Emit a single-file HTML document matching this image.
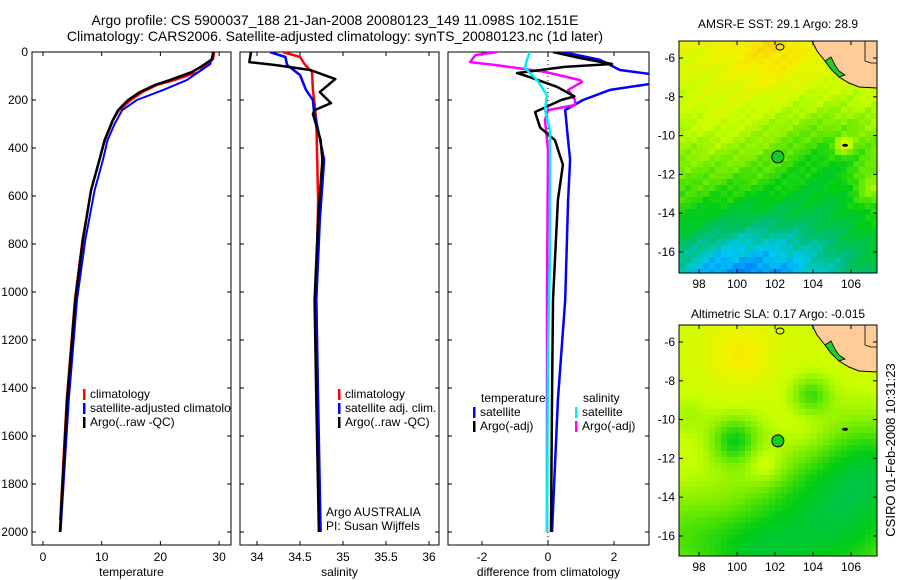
<!DOCTYPE html>
<html><head><meta charset="utf-8"><style>
body{margin:0;background:#fff}
svg{display:block;font-family:"Liberation Sans",sans-serif}
</style></head><body>
<svg id="fig" width="900" height="580" viewBox="0 0 900 580" xmlns="http://www.w3.org/2000/svg">
<defs>
<clipPath id="cT"><rect x="32" y="52" width="199" height="493"/></clipPath>
<clipPath id="cS"><rect x="240" y="52" width="199" height="493"/></clipPath>
<clipPath id="cD"><rect x="448" y="52" width="201" height="493"/></clipPath>
<clipPath id="cM1"><rect x="679" y="41" width="198" height="232"/></clipPath>
<clipPath id="cM2"><rect x="679" y="325" width="198" height="231"/></clipPath>
</defs>
<text x="335" y="25" font-size="14" text-anchor="middle">Argo profile: CS 5900037_188 21-Jan-2008 20080123_149 11.098S 102.151E</text>
<text x="335" y="41" font-size="14" text-anchor="middle">Climatology: CARS2006. Satellite-adjusted climatology: synTS_20080123.nc (1d later)</text>
<g id="g"></g>
<text x="778" y="28" font-size="12" text-anchor="middle">AMSR-E SST: 29.1 Argo: 28.9</text>
<text x="778" y="318" font-size="12" text-anchor="middle">Altimetric SLA: 0.17 Argo: -0.015</text>
<text transform="translate(895,450) rotate(-90)" font-size="13" text-anchor="middle">CSIRO 01-Feb-2008 10:31:23</text>
</svg>
<script>
// ---- data ----
const depthTicks=[0,200,400,600,800,1000,1200,1400,1600,1800,2000];
const tempTicks=[0,10,20,30];
const salTicks=[34,34.5,35,35.5,36];
const diffTicks=[-2,0,2];
const tClimD=[0,30,60,83,117,137,167,200,242,283,367,450,575,783,1033,1450,1950];
const tClimV=[29.2,29.0,27.5,26.5,22.5,19.5,17,15,13,12,10.6,9.6,8.2,6.7,5.4,4.0,2.9];
const tSatD=[0,50,117,158,200,242,300,367,450,575,783,1033,1450,2000];
const tSatV=[29.0,28.5,24.5,20.5,16.0,13.5,12.2,11.0,10.2,8.8,7.2,5.8,4.4,3.0];
const tArgoD=[0,30,60,83,117,137,167,200,242,283,367,450,575,783,1033,1450,2000];
const tArgoV=[29.0,28.8,27.0,25.4,21.6,19.1,16.5,14.5,12.8,11.9,10.5,9.6,8.2,6.8,5.5,4.1,2.9];
const sClimD=[0,21,54,83,158,283,617,1033,2000];
const sClimV=[34.3,34.5,34.56,34.64,34.65,34.69,34.71,34.69,34.73];
const sSatD=[0,21,54,96,158,200,242,325,450,700,1033,1450,2000];
const sSatV=[34.15,34.33,34.35,34.5,34.57,34.65,34.66,34.71,34.78,34.73,34.69,34.71,34.74];
const sArgoD=[0,42,54,75,113,167,213,242,258,367,450,700,1033,1450,2000];
const sArgoV=[33.93,33.91,34.21,34.62,34.91,34.73,34.86,34.67,34.65,34.74,34.76,34.71,34.67,34.69,34.72];
const dTSatD=[0,33,75,92,133,158,200,242,367,450,617,1033,1450,2000];
const dTSatV=[0.45,1.58,2.18,3.1,3.1,1.88,1.06,0.52,0.61,0.67,0.61,0.52,0.3,0.12];
const dTArgoD=[0,25,50,62,88,105,145,185,200,250,315,367,470,617,1033,1450,2000];
const dTArgoV=[0.15,0.97,1.94,0.5,-0.94,-0.55,0.27,0.8,0.4,-0.39,-0.24,0.21,0.45,0.3,0.15,0.12,0.09];
const dSSatD=[0,33,67,117,179,242,325,833,1250,2000];
const dSSatV=[-0.55,-0.64,-0.7,-0.33,-0.03,-0.09,0.06,0.06,0,-0.03];
const dSArgoD=[0,13,42,54,83,117,125,158,200,221,242,283,408,1000,2000];
const dSArgoV=[-1.55,-2.2,-2.36,-1.6,-0.09,0.97,1.03,0.61,0.82,0.82,0,-0.09,0,-0.03,-0.03];
const lonTicks=[98,100,102,104,106];
const latTicks=[-6,-8,-10,-12,-14,-16];

const NS='http://www.w3.org/2000/svg';
const G=document.getElementById('g');
function mk(tag,at,par){const e=document.createElementNS(NS,tag);for(const k in at)e.setAttribute(k,at[k]);(par||G).appendChild(e);return e;}
const yD=d=>52+d*0.24;
const xT=v=>43+v*5.87;
const xS=v=>257+(v-34)*86;
const xDf=v=>548+v*33;

function panel(name,x0,w,xf,ticks,label,showY){
  const r=mk('rect',{x:x0,y:52,width:w,height:493,fill:'none',stroke:'#000','stroke-width':1});
  
  
  ticks.forEach(t=>{const x=xf(t);
    mk('line',{x1:x,y1:545,x2:x,y2:541,stroke:'#000'});mk('line',{x1:x,y1:52,x2:x,y2:56,stroke:'#000'});
    const tx=mk('text',{x:x,y:561,'font-size':12,'text-anchor':'middle'});tx.textContent=String(t);
    
    });
  depthTicks.forEach(d=>{const y=yD(d);
    mk('line',{x1:x0,y1:y,x2:x0+4,y2:y,stroke:'#000'});mk('line',{x1:x0+w,y1:y,x2:x0+w-4,y2:y,stroke:'#000'});
    if(showY){const tx=mk('text',{x:x0-4,y:y+4,'font-size':12,'text-anchor':'end'});tx.textContent=String(d);
      
      }});
  const lb=mk('text',{x:x0+w/2,y:576,'font-size':12,'text-anchor':'middle'});lb.textContent=label;
  
  
}
function line(D,V,xf,col,sw,clip,name){
  const p=D.map((d,i)=>xf(V[i]).toFixed(1)+','+yD(d).toFixed(1)).join(' ');
  const e=mk('polyline',{points:p,fill:'none',stroke:col,'stroke-width':sw,'clip-path':'url(#'+clip+')','stroke-linejoin':'round'});
  
  
}
function legend(x,y,col,txt,name){
  mk('rect',{x:x,y:y-9,width:2.5,height:11,fill:col});
  const t=mk('text',{x:x+7,y:y,'font-size':12});t.textContent=txt;
  
  
}
panel('temperature',32,199,xT,tempTicks,'temperature',true);
panel('salinity',240,199,xS,salTicks,'salinity',false);
panel('difference',448,201,xDf,diffTicks,'difference from climatology',false);
mk('line',{x1:548,y1:52,x2:548,y2:545,stroke:'#000','stroke-dasharray':'1,3'});

line(tClimD,tClimV,xT,'#f00',2,'cT','temp-climatology-line');
line(tSatD,tSatV,xT,'#00f',2,'cT','temp-satellite-line');
line(tArgoD,tArgoV,xT,'#000',2.5,'cT','temp-argo-line');
line(sClimD,sClimV,xS,'#f00',2.5,'cS','sal-climatology-line');
line(sSatD,sSatV,xS,'#00f',2.5,'cS','sal-satellite-line');
line(sArgoD,sArgoV,xS,'#000',2.5,'cS','sal-argo-line');
line(dTSatD,dTSatV,xDf,'#00f',2.5,'cD','diff-temp-satellite-line');
line(dSArgoD,dSArgoV,xDf,'#f0f',2.5,'cD','diff-sal-argo-line');
line(dTArgoD,dTArgoV,xDf,'#000',2.5,'cD','diff-temp-argo-line');
line(dSSatD,dSSatV,xDf,'#0ee',2.5,'cD','diff-sal-satellite-line');

const gl=mk('g',{'clip-path':'url(#cT)'});
[['#f00','climatology',398],['#00f','satellite-adjusted climatology',412],['#000','Argo(..raw -QC)',426]].forEach(a=>{
  mk('rect',{x:83,y:a[2]-9,width:2.5,height:11,fill:a[0]},gl);
  const t=mk('text',{x:90,y:a[2],'font-size':12},gl);t.textContent=a[1];
  
  });
legend(338,398,'#f00','climatology','sal-legend-climatology');
legend(338,412,'#00f','satellite adj. clim.','sal-legend-satellite');
legend(338,426,'#000','Argo(..raw -QC)','sal-legend-argo');
let t1=mk('text',{x:326,y:516,'font-size':12});t1.textContent='Argo AUSTRALIA';


let t2=mk('text',{x:326,y:530,'font-size':12});t2.textContent='PI: Susan Wijffels';


let t3=mk('text',{x:481,y:402,'font-size':12});t3.textContent='temperature';


let t4=mk('text',{x:583,y:402,'font-size':12});t4.textContent='salinity';


legend(473,416,'#00f','satellite','diff-legend-temp-sat');
legend(473,430,'#000','Argo(-adj)','diff-legend-temp-argo');
legend(575,416,'#0ee','satellite','diff-legend-sal-sat');
legend(575,430,'#f0f','Argo(-adj)','diff-legend-sal-argo');

// ---- maps ----
const stops=[[0.28,[0,110,255]],[0.36,[0,200,240]],[0.44,[0,190,110]],[0.52,[0,205,20]],[0.6,[110,235,0]],[0.68,[200,255,0]],[0.76,[245,240,0]],[0.88,[255,170,0]]];
function cmap(v){if(v<=stops[0][0])return stops[0][1];for(let i=1;i<stops.length;i++){if(v<=stops[i][0]){const a=stops[i-1],b=stops[i],f=(v-a[0])/(b[0]-a[0]);return a[1].map((c,k)=>Math.round(c+(b[1][k]-c)*f));}}return stops[stops.length-1][1];}
const g2=(x,y,cx,cy,s,a)=>a*Math.exp(-((x-cx)**2+(y-cy)**2)/(2*s*s));
function field1(x,y){let v=0.73-0.0009*y;v+=g2(x,y,90,12,30,0.07)+g2(x,y,80,240,55,-0.2)+g2(x,y,20,235,30,-0.06)+g2(x,y,150,120,35,-0.08)+g2(x,y,165,104,6,0.16)+g2(x,y,192,145,12,0.08)+g2(x,y,170,210,40,-0.04)+g2(x,y,40,80,25,0.03);v+=0.025*Math.sin(x*1.3+y*0.7)*Math.cos(y*0.9+x*0.4);return v;}
function field2(x,y){let v=0.7;v+=g2(x,y,150,195,60,-0.2)+g2(x,y,198,140,35,-0.1)+g2(x,y,70,235,35,-0.12)+g2(x,y,0,210,35,-0.1)+g2(x,y,55,115,17,-0.15)+g2(x,y,132,70,14,-0.12)+g2(x,y,8,90,15,-0.05)+g2(x,y,62,28,22,0.07)+g2(x,y,86,140,14,0.07)+g2(x,y,124,104,20,0.04);return v;}
function map(x0,y0,h,fn,clip,name,latY0){
  const mg=mk('g',{'clip-path':'url(#'+clip+')'});
  
  
  const s=6;
  for(let y=0;y<h;y+=s)for(let x=0;x<198;x+=s){const c=cmap(fn(x+3,y+3));mk('rect',{x:x0+x,y:y0+y,width:s+0.5,height:s+0.5,fill:'rgb('+c+')'},mg);}
  mk('polygon',{points:[[133,0],[138,10],[146,20],[152,28],[160,36],[170,42],[180,46],[198,47],[198,0]].map(p=>(x0+p[0])+','+(y0+p[1])).join(' '),fill:'#ffcc99',stroke:'#000','stroke-width':1},mg);
  mk('polygon',{points:[[146,20],[152,16],[156,24],[160,30],[166,34],[160,36],[152,28]].map(p=>(x0+p[0])+','+(y0+p[1])).join(' '),fill:'#22cc22',stroke:'#000','stroke-width':0.8},mg);
  mk('polyline',{points:[[186,0],[186,20],[192,22],[198,22]].map(p=>(x0+p[0])+','+(y0+p[1])).join(' '),fill:'none',stroke:'#000','stroke-width':0.8},mg);
  mk('ellipse',{cx:x0+101,cy:y0+6,rx:4,ry:3,fill:'none',stroke:'#000'},mg);
  mk('ellipse',{cx:x0+166,cy:y0+(latY0+(10.5-6)*19.4),rx:3,ry:1.5,fill:'#000'},mg);
  const fr=mk('rect',{x:x0,y:y0,width:198,height:h,fill:'none',stroke:'#000'});
  
  
  const px=lon=>x0+(lon-97)*19+1, py=lat=>y0+latY0+(-6-lat)*19.4;
  const ac=mk('circle',{cx:px(102.151),cy:py(-11.098),r:6,fill:'#11cc22',stroke:'#000','stroke-width':1});
  
  
  lonTicks.forEach(l=>{const x=px(l);mk('line',{x1:x,y1:y0+h,x2:x,y2:y0+h-4,stroke:'#000'});mk('line',{x1:x,y1:y0,x2:x,y2:y0+4,stroke:'#000'});
    const t=mk('text',{x:x,y:y0+h+15,'font-size':12,'text-anchor':'middle'});t.textContent=String(l);
    
    });
  latTicks.forEach(l=>{const y=py(l);mk('line',{x1:x0,y1:y,x2:x0+4,y2:y,stroke:'#000'});mk('line',{x1:x0+198,y1:y,x2:x0+194,y2:y,stroke:'#000'});
    const t=mk('text',{x:x0-4,y:y+4,'font-size':12,'text-anchor':'end'});t.textContent=String(l);
    
    });
}
map(679,41,232,field1,'cM1','sst-map',17);
map(679,325,231,field2,'cM2','sla-map',17);
</script>
</body></html>
